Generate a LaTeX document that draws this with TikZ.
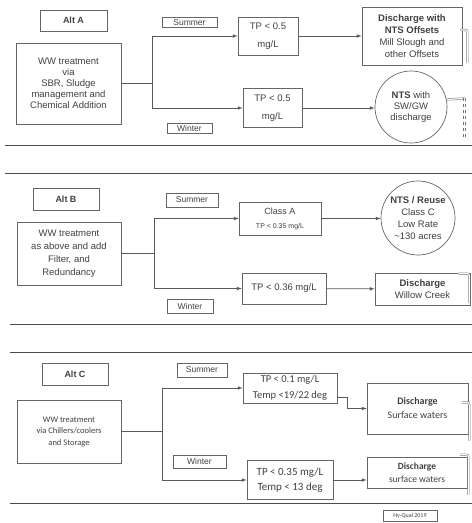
\documentclass[tikz,border=0pt]{standalone}
\usepackage{fontspec}
\setmainfont{Liberation Sans}
\newfontfamily\calfont{Carlito}
\usetikzlibrary{positioning}

\begin{document}
\begin{tikzpicture}[
  x=1pt, y=-1pt,
  >=latex,
  basic/.style  = {draw=black!60, line width=0.7pt, rectangle, inner sep=1pt, align=center, text=black!75, font=\fontsize{9.5}{11}\selectfont},
  alt/.style    = {basic, font=\fontsize{9}{10}\selectfont\bfseries},
  season/.style = {basic, font=\fontsize{8.5}{9}\selectfont},
  outlet/.style = {basic, circle, inner sep=0pt},
  calbox/.style = {basic, font=\calfont\fontsize{10}{14}\selectfont},
  link/.style   = {draw=black!65, line width=0.7pt},
  rule/.style   = {draw=black!70, line width=1pt},
  hook/.style   = {draw=black!55, double=white, double distance=1.2pt, line width=0.5pt, rounded corners=2pt}]

	\useasboundingbox (0,0) rectangle (472,523);

	% Alt A, the first panel
	\node[alt, minimum width=67, minimum height=21] (altA) at (73.5,20.5) {Alt A};
	\node[basic, minimum width=105, minimum height=81] (wwA) at (68.5,83.5) {WW treatment\\via\\SBR, Sludge\\management and\\Chemical Addition};
	\node[season, minimum width=55, minimum height=10] (sumA) at (189.5,22.5) {Summer};
	\node[season, minimum width=45, minimum height=10] (winA) at (189.5,128) {Winter};
	\node[basic, minimum width=60, minimum height=38, font=\fontsize{9.5}{18}\selectfont] (tpA1) at (268,36) {TP < 0.5\\mg/L};
	\node[basic, minimum width=59, minimum height=39, font=\fontsize{9.5}{18}\selectfont] (tpA2) at (272.5,108) {TP < 0.5\\mg/L};
	\node[basic, minimum width=100, minimum height=58, font=\fontsize{9.5}{12}\selectfont] (disA) at (412,36) {\textbf{Discharge with}\\\textbf{NTS Offsets}\\Mill Slough and\\other Offsets};
	\node[outlet, minimum size=72] (ntsA) at (411,107) {\textbf{NTS} with\\SW/GW\\discharge};

	\coordinate (jA) at (152,0);
	\draw[link] (wwA.east) -- (wwA.east -| jA);
	\draw[link,->] (wwA.east -| jA) |- (tpA1.west);
	\draw[link,->] (wwA.east -| jA) |- (tpA2.west);
	\draw[link,->] (tpA1) -- (disA);
	\draw[link,->] (tpA2.east) -- (tpA2.east -| ntsA.west);
	\draw[hook] ([xshift=-2pt,yshift=6pt]disA.east) -- ++(7,0) -- ++(0,33);
	\draw[hook] (ntsA.12) -- ++(18,-1) coordinate (hA);
	\draw[hook, dashed] (hA) -- ++(0,42);

	\draw[rule] (5,145) -- (472,145);
	\draw[rule] (5,173) -- (472,173);

	% Alt B, the second panel
	\node[alt, minimum width=66, minimum height=22] (altB) at (66,199) {Alt B};
	\node[basic, minimum width=104, minimum height=63, font=\fontsize{9.5}{13}\selectfont] (wwB) at (69,253.5) {WW treatment\\as above and add\\Filter, and\\Redundancy};
	\node[season, minimum width=52, minimum height=14] (sumB) at (192,200) {Summer};
	\node[season, minimum width=46, minimum height=14] (winB) at (190,306) {Winter};
	\node[basic, minimum width=82, minimum height=33, font=\fontsize{9}{14}\selectfont] (classA) at (280,218.5) {Class A\\\fontsize{7}{8}\selectfont TP < 0.35 mg/L};
	\node[basic, minimum width=84, minimum height=31] (tpB2) at (284,288.5) {TP < 0.36 mg/L};
	\node[outlet, minimum size=74, font=\fontsize{9.5}{12}\selectfont] (ntsB) at (418,218) {\textbf{NTS / Reuse}\\Class C\\Low Rate\\\textasciitilde130 acres};
	\node[basic, minimum width=95, minimum height=32, font=\fontsize{9.5}{12}\selectfont] (disB) at (422.5,289) {\textbf{Discharge}\\Willow Creek};

	\coordinate (jB) at (154,0);
	\draw[link] (wwB.east) -- (wwB.east -| jB);
	\draw[link,->] (wwB.east -| jB) |- (classA.west);
	\draw[link,->] (wwB.east -| jB) |- (tpB2.west);
	\draw[link,->] (classA.east) -- (classA.east -| ntsB.west);
	\draw[link,->] (tpB2) -- (disB);
	\draw[hook] ([xshift=-12pt,yshift=-1pt]disB.north east) -- ++(11,0) -- ++(0,29);

	\draw[rule] (10,324) -- (472,324);
	\draw[rule] (10,352) -- (472,352);

	% Alt C, the third panel
	\node[alt, minimum width=66, minimum height=22] (altC) at (75,374) {Alt C};
	\node[calbox, minimum width=104, minimum height=63, font=\calfont\fontsize{8.5}{11.5}\selectfont] (wwC) at (69,431.5) {WW treatment\\via Chillers/coolers\\and Storage};
	\node[season, minimum width=50, minimum height=14] (sumC) at (202,370) {Summer};
	\node[season, minimum width=53, minimum height=13] (winC) at (199.5,461.5) {Winter};
	\node[calbox, minimum width=94, minimum height=30, font=\calfont\fontsize{10.5}{16}\selectfont] (tpC1) at (290,388) {TP < 0.1 mg/L\\Temp <19/22 deg};
	\node[calbox, minimum width=86, minimum height=39, font=\calfont\fontsize{11}{15}\selectfont] (tpC2) at (290,480) {TP < 0.35 mg/L\\Temp < 13 deg};
	\node[calbox, minimum width=101, minimum height=51] (disC1) at (417.5,408.5) {\textbf{Discharge}\\Surface waters};
	\node[calbox, minimum width=100, minimum height=31, font=\calfont\fontsize{9.5}{12.5}\selectfont] (disC2) at (417,472.5) {\textbf{Discharge}\\surface waters};
	\node[basic, minimum width=54, minimum height=11, font=\calfont\fontsize{6}{7}\selectfont] (hyqual) at (410,515.5) {Hy-Qual 2019};

	\coordinate (jC) at (162,0);
	\draw[link] (wwC.east) -- (wwC.east -| jC);
	\draw[link,->] (wwC.east -| jC) |- (tpC1.west);
	\draw[link,->] (wwC.east -| jC) |- (tpC2.west);
	\draw[link,->] ([yshift=-9pt]tpC1.east) -- ++(10,0) |- (disC1.west);
	\draw[link,->] (tpC2.east) -- (tpC2.east -| disC2.west);
	\draw[hook] ([xshift=-6pt,yshift=6pt]disC1.east) -- ++(7,0) -- ++(0,38);
	\draw[hook] ([xshift=-7pt,yshift=2pt]disC2.north east) -- ++(8,0) -- ++(0,40);

	\draw[rule] (10,503) -- (472,503);
\end{tikzpicture}
\end{document}
